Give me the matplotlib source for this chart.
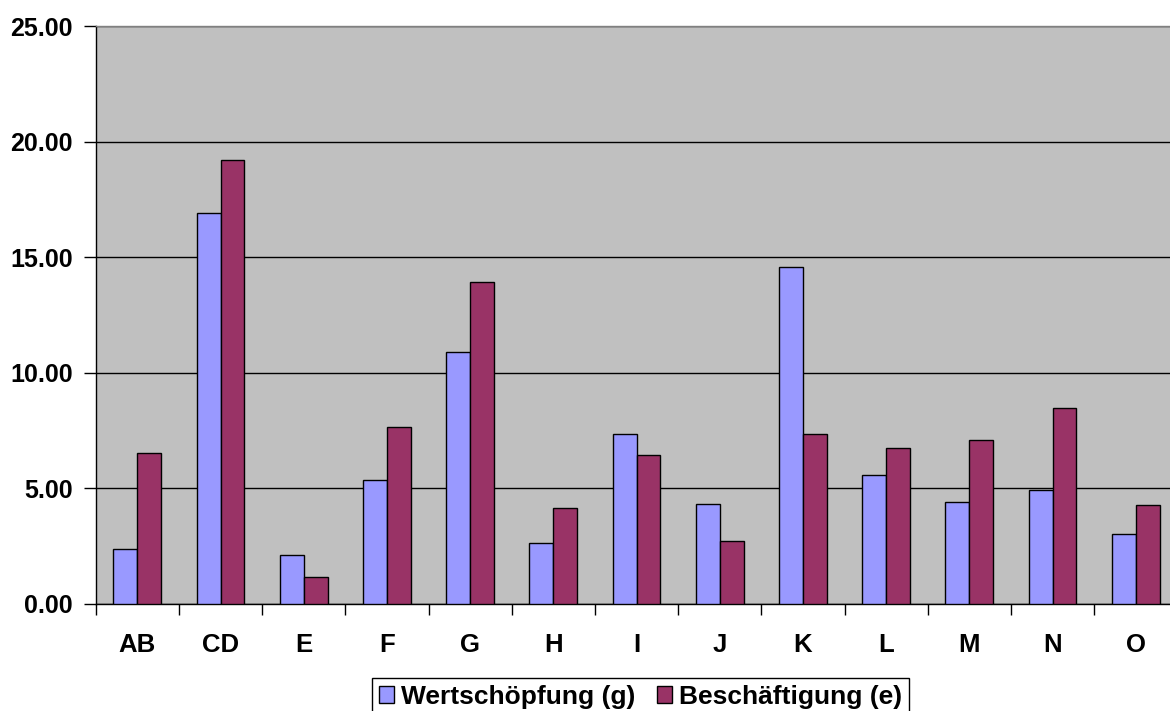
import matplotlib
matplotlib.use('Agg')
import matplotlib.pyplot as plt
import numpy as np
from matplotlib.ticker import FormatStrFormatter

plt.rcParams['font.family'] = ['Liberation Sans', 'DejaVu Sans']
plt.rcParams['font.weight'] = 'bold'

# Daten
branchen = ['AB', 'CD', 'E', 'F', 'G', 'H', 'I', 'J', 'K', 'L', 'M', 'N', 'O']
wertschoepfung = [2.36, 16.92, 2.11, 5.35, 10.91, 2.64, 7.36, 4.32, 14.55, 5.58, 4.38, 4.93, 3.02]
beschaeftigung = [6.52, 19.20, 1.17, 7.66, 13.91, 4.16, 6.43, 2.73, 7.33, 6.74, 7.07, 8.48, 4.26]
y_ticks = [0, 5, 10, 15, 20, 25]

W, H = 1170, 711
fig = plt.figure(figsize=(W / 100, H / 100), dpi=100, facecolor='white')

# Plotbereich in Pixeln (rechter Rand ragt leicht aus dem Bild)
left, right, top, bottom = 95.7, 95.7 + 13 * 83.2, 26.0, 603.7
ax = fig.add_axes([left / W, 1 - bottom / H, (right - left) / W, (bottom - top) / H])
ax.set_facecolor('#C0C0C0')

x = np.arange(len(branchen)) + 0.5
bw = 0.288
ax.bar(x - bw / 2, wertschoepfung, bw, color='#9999FF', edgecolor='black', linewidth=1.0,
       label='Wertschöpfung (g)', zorder=3)
ax.bar(x + bw / 2, beschaeftigung, bw, color='#993366', edgecolor='black', linewidth=1.0,
       label='Beschäftigung (e)', zorder=3)

ax.set_xlim(0, len(branchen))
ax.set_ylim(0, 25)
ax.set_yticks(y_ticks)
ax.yaxis.set_major_formatter(FormatStrFormatter('%.2f'))
ax.grid(axis='y', color='black', linewidth=1.0, zorder=1)

# Striche an den Kategoriegrenzen, Beschriftung in der Mitte
ax.set_xticks(np.arange(len(branchen) + 1))
ax.set_xticklabels([])
ax.set_xticks(x, minor=True)
ax.set_xticklabels(branchen, minor=True)
ax.tick_params(axis='x', which='major', direction='out', length=8, width=1, color='black')
ax.tick_params(axis='x', which='minor', length=0, pad=21, labelsize=18.5)
ax.tick_params(axis='y', direction='out', length=8.5, width=1, color='black', pad=8, labelsize=18)

for lab in ax.get_xticklabels(minor=True) + ax.get_yticklabels():
    lab.set_fontweight('bold')

ax.spines['left'].set_color('black')
ax.spines['bottom'].set_color('black')
ax.spines['top'].set_color('#808080')
ax.spines['right'].set_visible(False)
for s in ax.spines.values():
    s.set_linewidth(1.0)

leg = fig.legend(loc='upper left', bbox_to_anchor=(372 / W, 1 - 678 / H), ncol=2,
                 frameon=True, fancybox=False, edgecolor='black', framealpha=1,
                 handlelength=0.6, handleheight=0.6, handletextpad=0.25,
                 columnspacing=0.8, borderpad=0.25, borderaxespad=0,
                 prop={'weight': 'bold', 'size': 19})
leg.get_frame().set_linewidth(1.0)

fig.savefig('out.png', dpi=100, facecolor='white')
